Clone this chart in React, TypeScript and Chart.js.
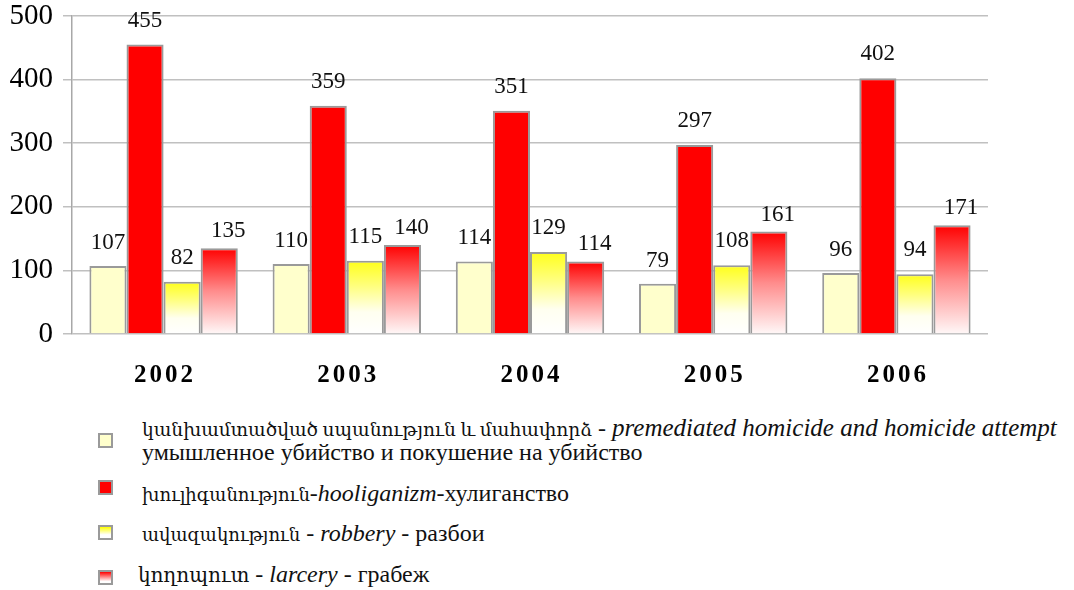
import { useEffect, useRef } from "react";
import { Chart, registerables } from "chart.js";
Chart.register(...registerables);

const YEARS = ["2002", "2003", "2004", "2005", "2006"];
const HOMICIDE = [107, 110, 114, 79, 96];
const HOOLIGANISM = [455, 359, 351, 297, 402];
const ROBBERY = [82, 115, 129, 108, 94];
const LARCENY = [135, 140, 114, 161, 171];
const Y_MIN = 0;
const Y_MAX = 500;
const Y_STEP = 100;

const NAMES_HY = [
  "կանխամտածված սպանություն և մահափորձ",
  "խուլիգանություն",
  "ավազակություն",
  "կողոպուտ",
];
const NAMES_EN = [
  "premediated homicide and homicide attempt",
  "hooliganizm",
  "robbery",
  "larcery",
];
const NAMES_RU = [
  "умышленное убийство и покушение на убийство",
  "хулиганство",
  "разбои",
  "грабеж",
];

const SERIF = '"Liberation Serif", "Times New Roman", "DejaVu Serif", serif';
const BORDER = "#9a9a9a";

function vGrad(stops: [number, string][]) {
  return (c: any) => {
    const chart = c.chart;
    const y = chart.scales && chart.scales.y;
    if (!y || c.type !== "data" || c.raw == null) return stops[0][1];
    const top = y.getPixelForValue(c.raw);
    const bot = y.getPixelForValue(0);
    if (!isFinite(top) || !isFinite(bot) || top === bot) return stops[0][1];
    const g = chart.ctx.createLinearGradient(0, top, 0, bot);
    stops.forEach(([o, col]) => g.addColorStop(o, col));
    return g;
  };
}

const LABEL_GAP = [17, 18, 18, 11];
const LABEL_DX = [0, 0, 0, 9];

const valueLabels = {
  id: "valueLabels",
  afterDatasetsDraw(chart: any) {
    const ctx = chart.ctx;
    ctx.save();
    ctx.font = `23px ${SERIF}`;
    ctx.fillStyle = "#111";
    ctx.textAlign = "center";
    ctx.textBaseline = "alphabetic";
    chart.data.datasets.forEach((ds: any, i: number) => {
      const meta = chart.getDatasetMeta(i);
      meta.data.forEach((el: any, j: number) => {
        ctx.fillText(String(ds.data[j]), el.x + LABEL_DX[i], el.y - LABEL_GAP[i]);
      });
    });
    ctx.restore();
  },
};

const xLabels = {
  id: "xLabels",
  afterDraw(chart: any) {
    const ctx = chart.ctx;
    const x = chart.scales.x;
    ctx.save();
    ctx.font = `bold 25px ${SERIF}`;
    (ctx as any).letterSpacing = "3px";
    ctx.fillStyle = "#000";
    ctx.textAlign = "center";
    ctx.textBaseline = "alphabetic";
    YEARS.forEach((lab, i) => {
      ctx.fillText(lab, x.getPixelForValue(i) + 1.5, chart.chartArea.bottom + 48);
    });
    ctx.restore();
  },
};

const LEGEND_BG = [
  "#ffffcc",
  "#ff0000",
  "linear-gradient(#ffff00, #ffffff 70%)",
  "linear-gradient(#ff0000, #ffffff 85%)",
];

function App() {
  const ref = useRef<HTMLCanvasElement>(null);
  useEffect(() => {
    if (!ref.current) return;
    const chart = new Chart(ref.current, {
      type: "bar",
      data: {
        labels: YEARS,
        datasets: [
          {
            label: NAMES_EN[0],
            data: HOMICIDE,
            backgroundColor: "#ffffcc",
            borderColor: BORDER,
            borderWidth: 2,
          },
          {
            label: NAMES_EN[1],
            data: HOOLIGANISM,
            backgroundColor: "#ff0000",
            borderColor: BORDER,
            borderWidth: 2,
          },
          {
            label: NAMES_EN[2],
            data: ROBBERY,
            backgroundColor: vGrad([
              [0, "#ffff1a"],
              [0.35, "#ffff80"],
              [0.7, "#fffff0"],
              [1, "#ffffff"],
            ]) as any,
            borderColor: BORDER,
            borderWidth: 2,
          },
          {
            label: NAMES_EN[3],
            data: LARCENY,
            backgroundColor: vGrad([
              [0, "#ff0000"],
              [0.5, "#ff8c8c"],
              [1, "#fff8f8"],
            ]) as any,
            borderColor: BORDER,
            borderWidth: 2,
          },
        ],
      },
      options: {
        responsive: false,
        animation: false,
        layout: { padding: { left: 0, right: 86, top: 16, bottom: 0 } },
        plugins: { legend: { display: false }, tooltip: { enabled: false } },
        datasets: { bar: { categoryPercentage: 0.81, barPercentage: 1.0 } },
        scales: {
          x: {
            ticks: { display: false },
            grid: { display: false },
            border: { display: false },
            afterFit: (s: any) => {
              s.height = 66;
            },
          },
          y: {
            min: Y_MIN,
            max: Y_MAX,
            ticks: {
              stepSize: Y_STEP,
              padding: 10,
              color: "#000",
              font: { family: SERIF, size: 29, lineHeight: 0.4 },
            },
            grid: { color: "#c0c0c0", lineWidth: 1.5, tickLength: 9, drawTicks: true },
            border: { display: true, color: "#a8a8a8", width: 1.5 },
            afterFit: (s: any) => {
              s.width = 72;
            },
          },
        },
      },
      plugins: [valueLabels, xLabels],
    });
    return () => chart.destroy();
  }, []);

  const legendTops = [416, 482, 522, 563];
  const boxTops = [433, 480, 525, 570];
  const hySizes = [18.6, 18, 18, 20];

  return (
    <div
      style={{
        position: "absolute",
        left: 0,
        top: 0,
        width: 1074,
        height: 590,
        background: "#fff",
        overflow: "hidden",
        fontFamily: SERIF,
        color: "#111",
      }}
    >
      <canvas ref={ref} width={1074} height={400} style={{ display: "block" }} />
      {NAMES_HY.map((hy, i) => (
        <div key={i}>
          <div
            style={{
              position: "absolute",
              left: 98,
              top: boxTops[i],
              width: 11,
              height: 11,
              border: `2px solid ${BORDER}`,
              background: LEGEND_BG[i],
            }}
          />
          <div
            style={{
              position: "absolute",
              left: i === 3 ? 138 : 142,
              top: legendTops[i],
              fontSize: 24,
              lineHeight: "23px",
              whiteSpace: "nowrap",
            }}
          >
            <span style={{ fontSize: hySizes[i] }}>{hy}</span>
            {i === 0 ? (
              <>
                {" - "}
                <i style={{ fontSize: 25 }}>{NAMES_EN[i]}</i>
                <br />
                {NAMES_RU[i]}
              </>
            ) : i === 1 ? (
              <>
                -<i>{NAMES_EN[i]}</i>-{NAMES_RU[i]}
              </>
            ) : (
              <>
                {" - "}
                <i>{NAMES_EN[i]}</i> - {NAMES_RU[i]}
              </>
            )}
          </div>
        </div>
      ))}
    </div>
  );
}

export default App;
